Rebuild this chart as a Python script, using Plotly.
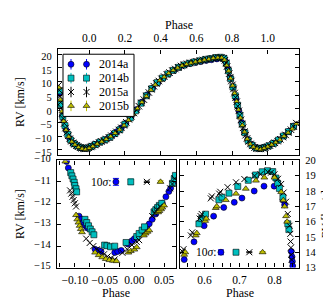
import plotly.graph_objects as go

W, H = 331, 300
FONT = "Liberation Serif"

# ---------------- data: overview panel ----------------
top_14a_ph = [-0.166, -0.150, -0.130, -0.110, -0.090, -0.070, -0.050, -0.030, -0.010, 0.010, 0.030, 0.055, 0.080, 0.105, 0.130, 0.155, 0.180, 0.205, 0.235, 0.265, 0.295, 0.325, 0.355, 0.385, 0.415, 0.445, 0.475, 0.505, 0.535, 0.565, 0.595, 0.625, 0.655, 0.685, 0.715, 0.745, 0.762, 0.776, 0.790, 0.806, 0.822, 0.838, 0.854, 0.870, 0.888, 0.910, 0.934, 0.958, 0.982, 1.006, 1.034, 1.062, 1.090, 1.118, 1.146]
top_14a_rv = [5.6, -2.6, -7.7, -10.8, -12.6, -13.4, -14.2, -14.3, -14.2, -13.7, -13.0, -12.2, -11.5, -10.7, -9.6, -8.3, -6.9, -5.2, -2.8, -0.2, 2.5, 5.2, 7.6, 9.7, 11.3, 12.8, 14.1, 15.2, 16.0, 16.6, 17.0, 17.3, 17.7, 18.0, 18.3, 18.4, 17.5, 14.8, 11.4, 7.9, 3.9, -0.7, -5.0, -8.4, -11.2, -13.0, -14.1, -14.3, -14.0, -13.5, -12.5, -11.3, -9.8, -8.2, -6.2]

top_14b_ph = [-0.168, -0.158, -0.148, -0.136, -0.120, -0.104, -0.086, -0.068, -0.048, -0.028, -0.008, 0.012, 0.035, 0.060, 0.088, 0.116, 0.144, 0.172, 0.200, 0.230, 0.260, 0.290, 0.320, 0.350, 0.380, 0.410, 0.440, 0.470, 0.500, 0.530, 0.560, 0.590, 0.620, 0.650, 0.680, 0.710, 0.735, 0.755, 0.768, 0.780, 0.792, 0.805, 0.818, 0.831, 0.844, 0.857, 0.872, 0.890, 0.912, 0.935, 0.958, 0.982, 1.006, 1.032, 1.060, 1.088, 1.116, 1.144]
top_14b_rv = [6.6, 1.6, -2.8, -6.1, -9.3, -11.4, -12.7, -13.5, -14.1, -14.4, -14.3, -13.7, -13.0, -12.1, -11.3, -10.4, -9.0, -7.6, -5.6, -3.3, -0.7, 2.1, 4.8, 7.4, 9.6, 11.3, 12.8, 14.1, 15.2, 16.1, 16.7, 17.2, 17.6, 18.1, 18.4, 18.8, 18.9, 18.5, 16.7, 13.9, 11.0, 8.0, 4.8, 1.4, -2.3, -5.6, -8.7, -11.5, -13.3, -14.3, -14.5, -14.1, -13.5, -12.6, -11.4, -9.9, -8.3, -6.4]

top_15a_ph = [-0.172, -0.168, -0.164, -0.160, -0.156, -0.151, -0.146, -0.140, -0.133, -0.125, -0.117, -0.109, -0.100, -0.091, -0.082, -0.072, -0.062, -0.052, -0.042, -0.032, -0.022, -0.012, -0.002, 0.008, 0.018, 0.030, 0.042, 0.055, 0.068, 0.082, 0.096, 0.110, 0.124, 0.138, 0.152, 0.166, 0.180, 0.194, 0.208, 0.222, 0.236, 0.250, 0.264, 0.278, 0.292, 0.306, 0.320, 0.334, 0.348, 0.362, 0.376, 0.390, 0.405, 0.420, 0.435, 0.450, 0.466, 0.482, 0.498, 0.514, 0.530, 0.548, 0.566, 0.584, 0.602, 0.620, 0.638, 0.656, 0.674, 0.692, 0.710, 0.726, 0.740, 0.752, 0.760, 0.766, 0.772, 0.778, 0.784, 0.790, 0.796, 0.802, 0.808, 0.814, 0.820, 0.826, 0.832, 0.838, 0.844, 0.850, 0.856, 0.862, 0.869, 0.876, 0.884, 0.893, 0.903, 0.914, 0.926, 0.938, 0.950, 0.962, 0.974, 0.986, 0.998, 1.012, 1.026, 1.040, 1.055, 1.070, 1.085, 1.100, 1.115, 1.130, 1.145, 1.160]
top_15a_rv = [8.6, 6.8, 4.6, 2.4, 0.4, -1.6, -3.5, -5.3, -7.0, -8.5, -9.8, -10.9, -11.8, -12.4, -12.9, -13.4, -13.8, -14.2, -14.4, -14.6, -14.6, -14.5, -14.2, -13.9, -13.6, -13.2, -12.8, -12.3, -11.9, -11.5, -11.0, -10.4, -9.8, -9.1, -8.4, -7.7, -6.9, -6.0, -4.9, -3.8, -2.7, -1.5, -0.3, 1.0, 2.2, 3.4, 4.7, 6.0, 7.2, 8.3, 9.3, 10.2, 11.0, 11.8, 12.6, 13.3, 14.0, 14.6, 15.2, 15.7, 16.1, 16.5, 16.8, 17.1, 17.4, 17.6, 17.9, 18.1, 18.3, 18.5, 18.7, 18.8, 18.8, 18.5, 17.8, 16.8, 15.5, 14.2, 12.9, 11.6, 10.2, 8.8, 7.3, 5.8, 4.2, 2.6, 1.0, -0.7, -2.4, -4.0, -5.5, -6.9, -8.3, -9.6, -10.8, -11.9, -12.8, -13.5, -14.1, -14.5, -14.6, -14.6, -14.4, -14.1, -13.8, -13.4, -12.9, -12.4, -11.8, -11.1, -10.3, -9.5, -8.6, -7.6, -6.4, -5.2]

top_15b_ph = [-0.170, -0.162, -0.153, -0.143, -0.130, -0.115, -0.098, -0.080, -0.060, -0.040, -0.020, 0.000, 0.020, 0.045, 0.070, 0.095, 0.120, 0.145, 0.170, 0.195, 0.220, 0.245, 0.270, 0.295, 0.320, 0.345, 0.370, 0.395, 0.420, 0.445, 0.470, 0.495, 0.520, 0.545, 0.570, 0.595, 0.620, 0.645, 0.670, 0.695, 0.720, 0.742, 0.758, 0.770, 0.781, 0.792, 0.803, 0.814, 0.825, 0.836, 0.847, 0.858, 0.870, 0.885, 0.902, 0.920, 0.940, 0.960, 0.980, 1.000, 1.022, 1.045, 1.068, 1.091, 1.114, 1.137, 1.160]
top_15b_rv = [7.8, 3.4, -0.9, -4.5, -7.7, -10.2, -12.0, -13.1, -14.0, -14.6, -14.8, -14.4, -13.7, -12.8, -12.0, -11.1, -10.1, -8.9, -7.6, -6.1, -4.1, -2.0, 0.2, 2.4, 4.6, 6.9, 8.8, 10.4, 11.7, 13.0, 14.1, 15.0, 15.8, 16.3, 16.8, 17.2, 17.5, 17.9, 18.2, 18.5, 18.7, 18.7, 17.9, 15.9, 13.9, 11.1, 8.5, 5.7, 2.8, -0.3, -3.3, -6.0, -8.4, -11.0, -12.8, -13.9, -14.6, -14.8, -14.4, -13.8, -13.1, -12.3, -11.3, -10.0, -8.7, -7.3, -5.4]

# ---------------- data: zoom on the minimum ----------------
min_14a_ph = [-0.114, -0.111, -0.093, -0.089, -0.086, -0.082, -0.079, -0.066, -0.060, -0.056, -0.033, -0.028, -0.022, -0.011, -0.004, 0.000, 0.010, 0.017, 0.021, 0.025, 0.030, 0.036, 0.047, 0.053, 0.058, 0.061, 0.067]
min_14a_rv = [-10.05, -10.35, -12.6, -12.75, -12.9, -13.05, -13.15, -14.15, -14.2, -14.25, -14.3, -14.25, -14.2, -13.9, -13.75, -13.65, -13.45, -13.26, -13.1, -12.96, -12.75, -12.5, -12.0, -11.7, -11.45, -11.3, -10.95]

min_14b_ph = [-0.107, -0.105, -0.103, -0.101, -0.100, -0.098, -0.097, -0.083, -0.080, -0.077, -0.074, -0.071, -0.068, -0.050, -0.046, -0.040, -0.033, -0.014, 0.004, 0.008, 0.013, 0.017, 0.033, 0.036, 0.039, 0.042, 0.046, 0.064, 0.067, 0.069]
min_14b_rv = [-10.57, -10.72, -10.87, -11.02, -11.17, -11.32, -11.47, -12.75, -12.9, -13.05, -13.2, -13.33, -13.47, -13.95, -13.98, -14.03, -14.0, -13.83, -13.55, -13.41, -13.25, -13.1, -12.4, -12.3, -12.2, -12.1, -12.0, -11.07, -10.85, -10.7]

min_15a_ph = [-0.108, -0.106, -0.104, -0.102, -0.100, -0.098, -0.081, -0.075, -0.069, -0.063, -0.057, -0.051, -0.045, -0.039, -0.033, -0.020, -0.012, -0.004, 0.004, 0.008, 0.030, 0.034, 0.038, 0.043, 0.060, 0.064, 0.068]
min_15a_rv = [-11.4, -11.55, -11.7, -11.85, -12.0, -12.15, -13.65, -13.85, -14.0, -14.15, -14.28, -14.38, -14.48, -14.56, -14.62, -14.31, -14.15, -13.95, -13.8, -13.72, -12.6, -12.45, -12.3, -12.15, -11.3, -11.1, -10.85]

min_15b_ph = [-0.116, -0.098, -0.096, -0.094, -0.092, -0.090, -0.088, -0.066, -0.060, -0.054, -0.048, -0.042, -0.036, -0.030, -0.010, -0.006, 0.000, 0.004, 0.016, 0.019, 0.022, 0.025, 0.040, 0.042, 0.045, 0.047, 0.050]
min_15b_rv = [-10.05, -12.55, -12.75, -12.9, -13.05, -13.2, -13.35, -14.3, -14.42, -14.52, -14.6, -14.65, -14.68, -14.7, -14.3, -14.23, -14.16, -14.05, -13.5, -13.41, -13.33, -13.26, -12.42, -12.36, -12.28, -12.2, -12.1]

# ---------------- data: zoom on the maximum ----------------
max_14a_ph = [0.542, 0.570, 0.599, 0.626, 0.655, 0.685, 0.707, 0.742, 0.770, 0.799, 0.824, 0.829, 0.848, 0.850, 0.851, 0.852]
max_14a_rv = [13.52, 14.68, 15.73, 16.36, 16.93, 17.26, 17.54, 18.0, 18.32, 18.32, 17.41, 17.1, 14.05, 13.7, 13.4, 13.1]

max_14b_ph = [0.584, 0.592, 0.603, 0.641, 0.650, 0.670, 0.695, 0.725, 0.746, 0.765, 0.780, 0.795, 0.804, 0.809, 0.814, 0.824, 0.838, 0.841]
max_14b_rv = [15.86, 16.2, 16.49, 17.43, 17.6, 17.86, 18.3, 18.7, 19.05, 19.26, 19.33, 19.27, 18.85, 18.5, 18.17, 17.6, 15.86, 15.48]

max_15a_ph = [0.537, 0.540, 0.561, 0.565, 0.586, 0.589, 0.592, 0.618, 0.621, 0.642, 0.645, 0.666, 0.690, 0.714, 0.743, 0.760, 0.781, 0.790, 0.800, 0.810, 0.819, 0.826, 0.833, 0.838, 0.843, 0.845, 0.846, 0.847, 0.848, 0.849]
max_15a_rv = [14.05, 14.2, 15.1, 15.3, 16.2, 16.36, 16.5, 17.52, 17.65, 17.83, 17.95, 18.25, 18.57, 18.78, 18.99, 19.1, 19.24, 19.2, 19.09, 18.8, 18.46, 17.9, 17.3, 16.5, 15.73, 15.2, 14.7, 14.3, 13.84, 13.5]

max_15b_ph = [0.542, 0.545, 0.575, 0.578, 0.602, 0.605, 0.632, 0.635, 0.661, 0.690, 0.718, 0.747, 0.771, 0.800, 0.819, 0.825, 0.829, 0.833, 0.836]
max_15b_rv = [13.84, 14.0, 15.1, 15.25, 16.05, 16.2, 16.89, 17.0, 17.41, 17.83, 18.15, 18.68, 18.88, 18.88, 17.94, 17.4, 16.99, 16.36, 16.0]

# ---------------- 10-sigma keys ----------------
key_names = ["2014a", "2014b", "2015a", "2015b"]
key_10sig = [0.16, 0.13, 0.03, 0.05]
key_min_ph = [-0.031, -0.006, 0.021, 0.044]
key_min_rv = -11.0
key_max_ph = [0.647, 0.690, 0.728, 0.766]
key_max_rv = 14.0

# ---------------- styles ----------------
STY = {
    "2014a": dict(symbol="circle", color="#0000ff", lc="black", lw=0.6),
    "2014b": dict(symbol="square", color="#00bfbf", lc="black", lw=0.6),
    "2015a": dict(symbol="x-thin", color="black", lc="black", lw=1.0),
    "2015b": dict(symbol="triangle-up", color="#bfbf00", lc="black", lw=0.6),
}

fig = go.Figure()

def add(name, xs, ys, xa, ya, size, err=None, errw=0):
    s = STY[name]
    tr = go.Scatter(
        x=xs, y=ys, xaxis=xa, yaxis=ya, mode="markers", showlegend=False,
        marker=dict(symbol=s["symbol"], size=size, color=s["color"],
                    line=dict(color=s["lc"], width=s["lw"])),
    )
    if err is not None:
        tr.error_y = dict(type="data", array=err, visible=True,
                          color=s["color"] if name != "2015a" else "black",
                          thickness=1, width=errw)
    fig.add_trace(tr)

top = {"2014a": (top_14a_ph, top_14a_rv), "2014b": (top_14b_ph, top_14b_rv),
       "2015a": (top_15a_ph, top_15a_rv), "2015b": (top_15b_ph, top_15b_rv)}
mins = {"2014a": (min_14a_ph, min_14a_rv), "2014b": (min_14b_ph, min_14b_rv),
        "2015a": (min_15a_ph, min_15a_rv), "2015b": (min_15b_ph, min_15b_rv)}
maxs = {"2014a": (max_14a_ph, max_14a_rv), "2014b": (max_14b_ph, max_14b_rv),
        "2015a": (max_15a_ph, max_15a_rv), "2015b": (max_15b_ph, max_15b_rv)}

top_size = {"2014a": 6, "2014b": 6, "2015a": 6.5, "2015b": 5}
for n in key_names:
    add(n, *top[n], "x", "y", top_size[n])
for n in key_names:
    add(n, *mins[n], "x2", "y2", 6)
for n in key_names:
    add(n, *maxs[n], "x3", "y3", 6)
for i, n in enumerate(key_names):
    add(n, [key_min_ph[i]], [key_min_rv], "x2", "y2", 6, err=[key_10sig[i]], errw=3)
    add(n, [key_max_ph[i]], [key_max_rv], "x3", "y3", 6, err=[key_10sig[i]], errw=3)

# ---------------- legend (drawn on a pixel overlay axis) ----------------
LB = dict(x0=55, x1=126, y0=41, y1=106)
fig.add_trace(go.Scatter(
    x=[LB["x0"], LB["x1"], LB["x1"], LB["x0"], LB["x0"]],
    y=[LB["y0"], LB["y0"], LB["y1"], LB["y1"], LB["y0"]],
    xaxis="x4", yaxis="y4", mode="lines", fill="toself", fillcolor="white",
    line=dict(color="black", width=1), showlegend=False, hoverinfo="skip"))
leg_rows = [51.5, 66, 80.5, 95]
leg_cols = [63, 78.5]
annotations = []
for i, n in enumerate(key_names):
    add(n, leg_cols, [leg_rows[i]] * 2, "x4", "y4", 6, err=[5.5, 5.5], errw=0)
    annotations.append(dict(x=89, y=leg_rows[i], xref="x4", yref="y4", text=n,
                            showarrow=False, xanchor="left", yanchor="middle",
                            font=dict(family=FONT, size=12, color="black")))

def lab(x, y, t, angle=0, xa="x4", ya="y4", xanchor="center", size=12):
    annotations.append(dict(x=x, y=y, xref=xa, yref=ya, text=t, showarrow=False,
                            textangle=angle, xanchor=xanchor, yanchor="middle",
                            borderpad=0,
                            font=dict(family=FONT, size=size, color="black")))

lab(170.5, 10, "Phase")
lab(12, 91, "RV [km/s]", -90)
lab(12, 208, "RV [km/s]", -90)
lab(318, 208, "RV [km/s]", -90, size=11.5)
lab(108, 291, "Phase")
lab(231.5, 291, "Phase")
lab(-0.037, key_min_rv, "10<i>σ</i>:", xa="x2", ya="y2", xanchor="right", size=11.5)
lab(0.637, key_max_rv, "10<i>σ</i>:", xa="x3", ya="y3", xanchor="right", size=11.5)

# ---------------- axes ----------------
TICKSIZE = 11.5
def ax(**kw):
    base = dict(showline=True, linecolor="black", linewidth=1.3, mirror="allticks",
                ticks="inside", ticklen=4, tickwidth=1, tickcolor="black",
                showgrid=False, zeroline=False, fixedrange=True, tickangle=0,
                tickfont=dict(family=FONT, size=TICKSIZE, color="black"))
    base.update(kw)
    return base

top_xt = [0.0, 0.2, 0.4, 0.6, 0.8, 1.0]
top_xl = ["0.0", "0.2", "0.4", "0.6", "0.8", "1.0"]
top_yt = [-15, -10, -5, 0, 5, 10, 15, 20]
min_xt = [-0.125, -0.1, -0.075, -0.05, -0.025, 0.0, 0.025, 0.05]
min_xl = ["", "−0.10", "", "−0.05", "", "0.00", "", "0.05"]
min_yt = [-15, -14, -13, -12, -11, -10]
max_xt = [0.55, 0.575, 0.6, 0.625, 0.65, 0.675, 0.7, 0.725, 0.75, 0.775, 0.8, 0.825, 0.85]
max_xl = ["", "", "0.6", "", "", "", "0.7", "", "", "", "0.8", "", ""]
max_yt = [13, 14, 15, 16, 17, 18, 19, 20]

fig.update_layout(
    width=W, height=H, margin=dict(l=0, r=0, t=0, b=0),
    paper_bgcolor="white", plot_bgcolor="rgba(0,0,0,0)",
    showlegend=False,
    xaxis=ax(domain=[50 / W, 291 / W], range=[-0.175, 1.175], anchor="y", side="top",
             tickvals=top_xt, ticktext=top_xl, ticklabelstandoff=2),
    yaxis=ax(domain=[1 - 146.5 / H, 1 - 36 / H], range=[-16.9, 21.75], anchor="x",
             tickvals=top_yt, ticklabelstandoff=3, ticklabelshift=2,
             tickfont=dict(family=FONT, size=10.5, color="black")),
    xaxis2=ax(domain=[49 / W, 168 / W], range=[-0.13, 0.07], anchor="y2",
              tickvals=min_xt, ticktext=min_xl, ticklabelstandoff=1),
    yaxis2=ax(domain=[1 - 264 / H, 1 - 152 / H], range=[-15, -10], anchor="x2",
              tickvals=min_yt, ticklabelstandoff=3, ticklabelshift=-2,
              tickfont=dict(family=FONT, size=10.5, color="black")),
    xaxis3=ax(domain=[172 / W, 291 / W], range=[0.53, 0.87], anchor="y3",
              tickvals=max_xt, ticktext=max_xl, ticklabelstandoff=1),
    yaxis3=ax(domain=[1 - 264 / H, 1 - 152 / H], range=[13, 20], anchor="x3",
              side="right", tickvals=max_yt, ticklabelstandoff=3,
              tickfont=dict(family=FONT, size=10.5, color="black")),
    xaxis4=dict(domain=[0, 1], range=[0, W], visible=False, anchor="y4", fixedrange=True),
    yaxis4=dict(domain=[0, 1], range=[H, 0], visible=False, anchor="x4", fixedrange=True),
    annotations=annotations,
)

fig.write_html("out.html")
